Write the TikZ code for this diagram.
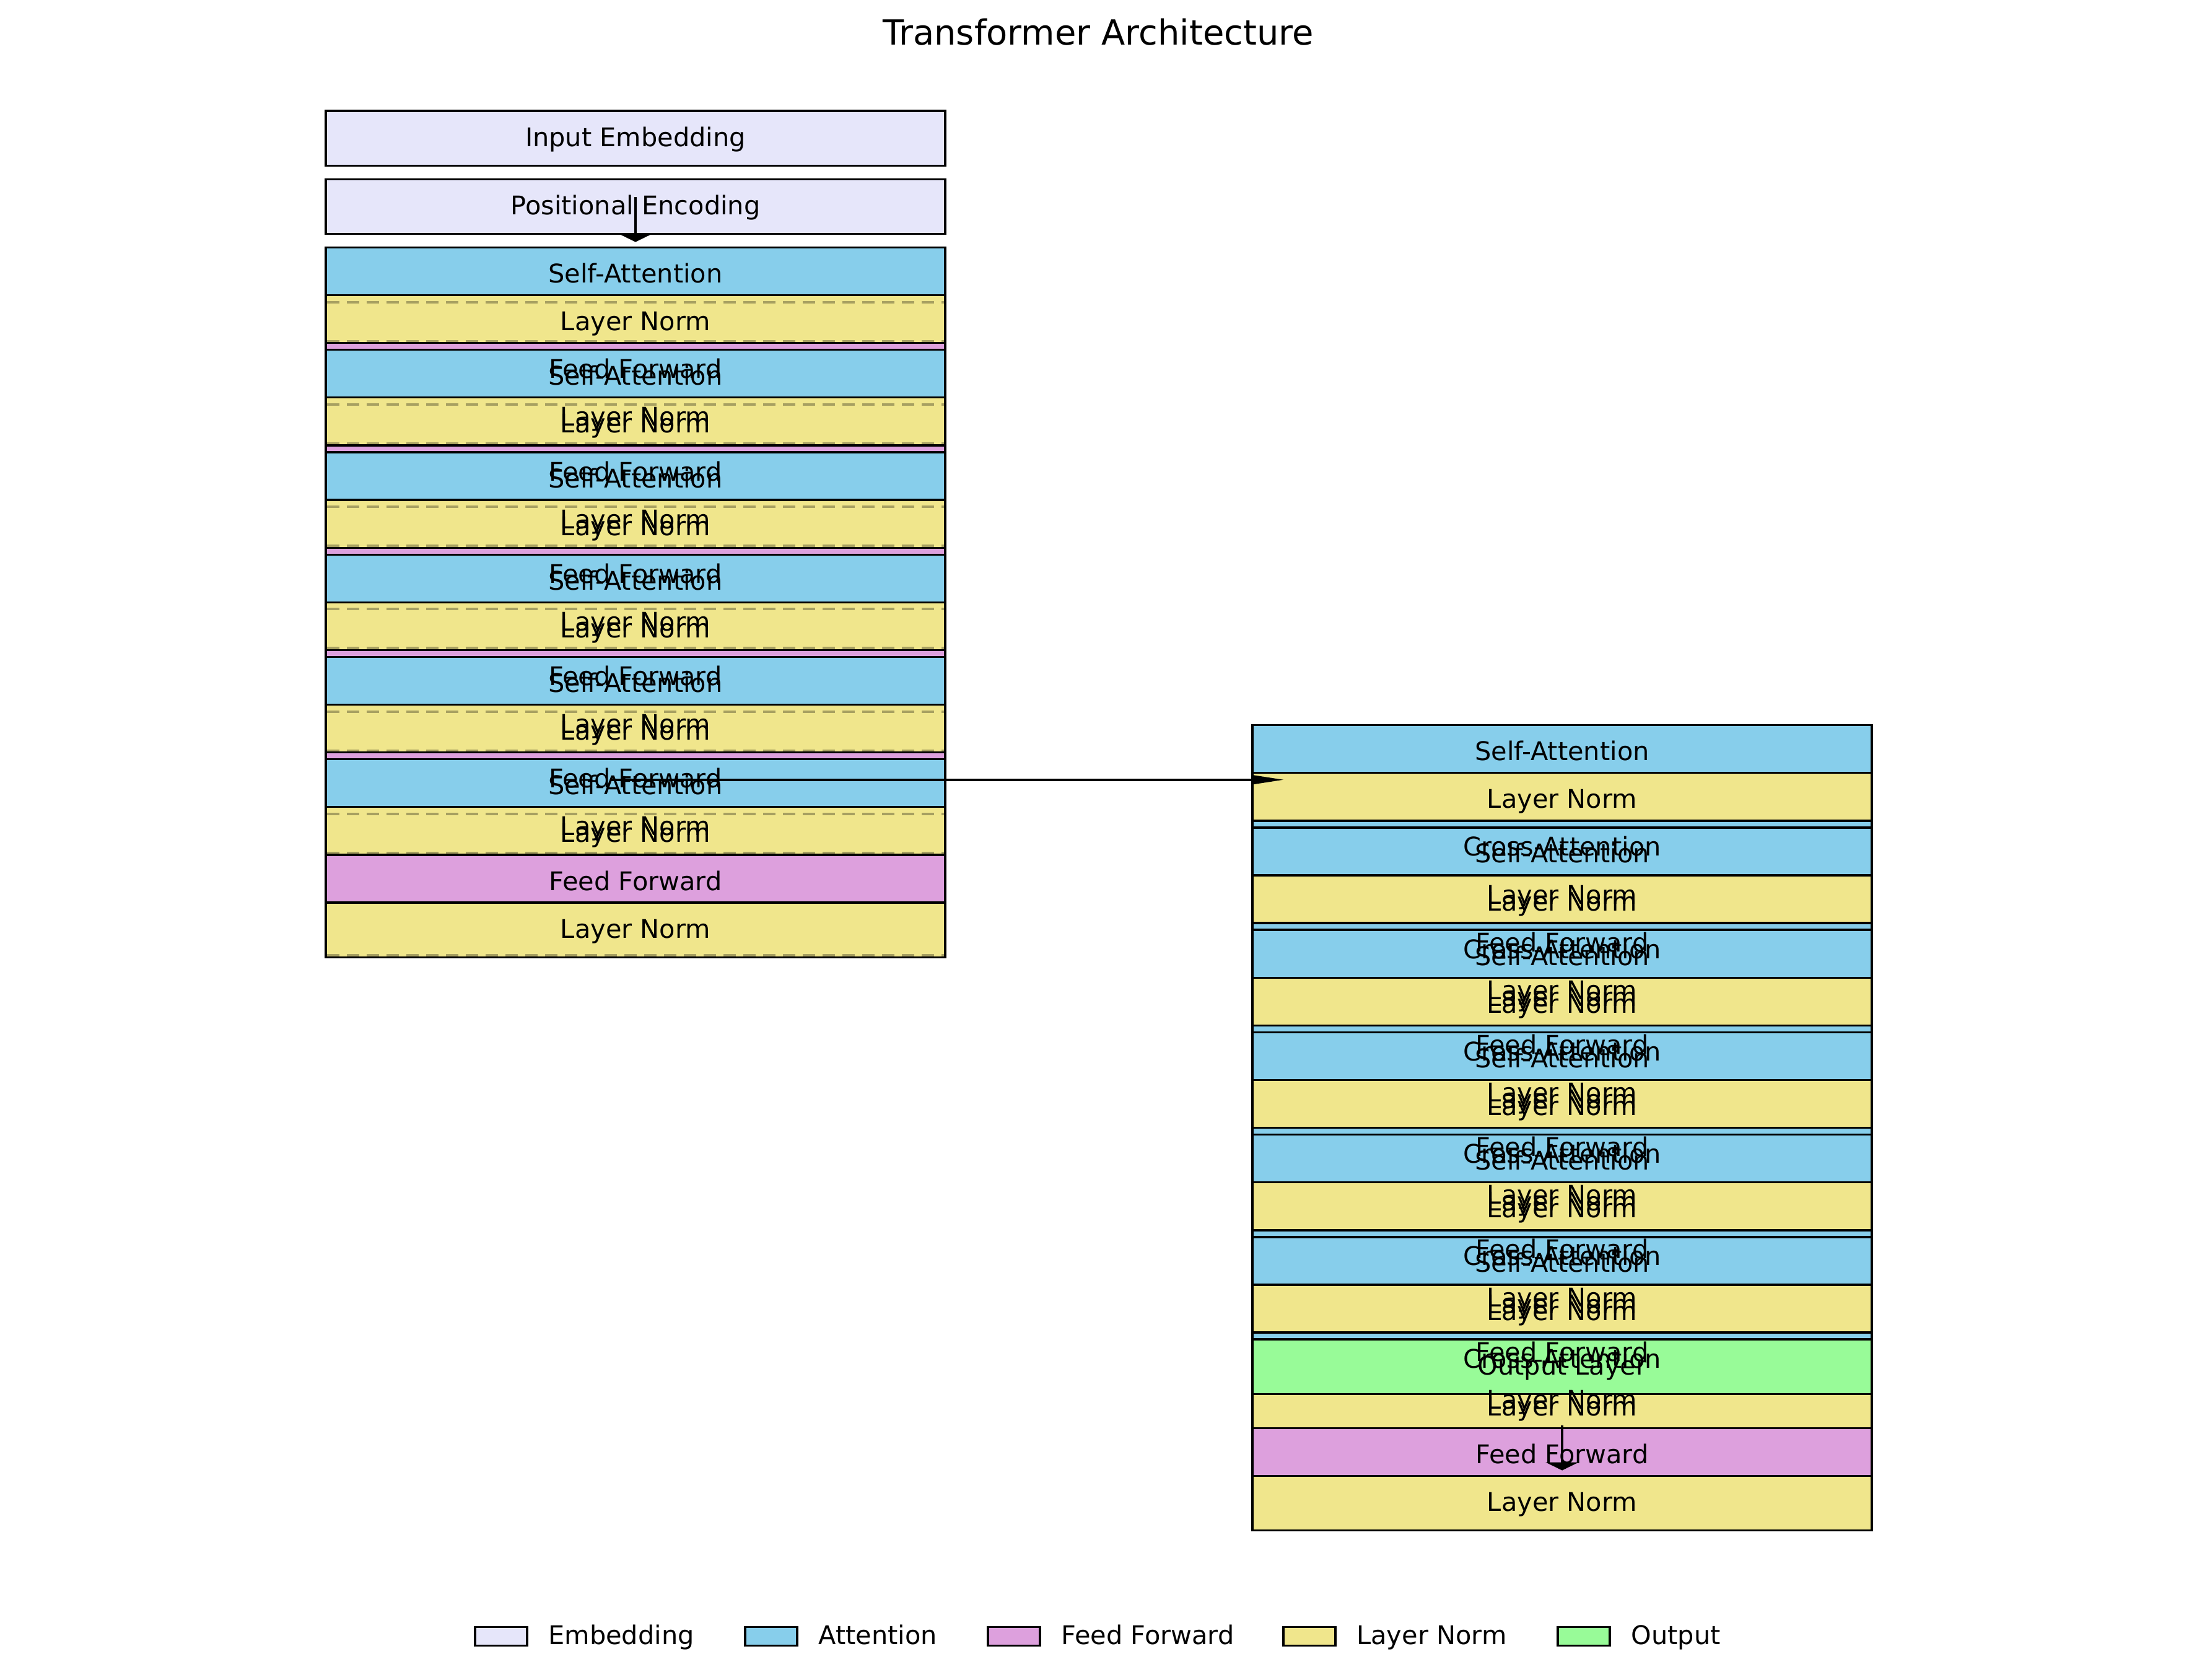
\documentclass[tikz,border=0pt]{standalone}
\usepackage{fontspec}
\setmainfont{DejaVu Sans}
\usetikzlibrary{arrows.meta,positioning}
\definecolor{embcol}{HTML}{E6E6FA}
\definecolor{attcol}{HTML}{87CEEB}
\definecolor{ffcol}{HTML}{DDA0DD}
\definecolor{lncol}{HTML}{F0E68C}
\definecolor{outcol}{HTML}{98FB98}
\tikzset{
	block/.style={draw=black,line width=0.95pt},
	lbl/.style={inner sep=0pt,font=\fontsize{11.8}{14}\selectfont,text height=10.2pt,text depth=2.8pt},
	ttl/.style={inner sep=0pt,font=\fontsize{15.9}{19}\selectfont,text height=14.6pt,text depth=3.8pt},
	resid/.style={draw=black,draw opacity=0.3,line width=1.1pt,dash pattern=on 5.7pt off 3.4pt},
	vflow/.style={line width=1pt,-{Triangle[length=3.7pt,width=15pt]}},
	hflow/.style={line width=1pt,-{Triangle[length=14.2pt,width=4pt]}},
	legpatch/.style={draw=black,line width=0.95pt,minimum width=0.84cm,minimum height=0.30cm,inner sep=0pt},
}
\newcommand{\eo}{1.626}
\begin{document}
\begin{tikzpicture}[x=0.01cm,y=-1.101cm]
	\useasboundingbox[fill=white] (0,0) rectangle (3547,24.614);
%%% Titel
	\node[ttl] (title) at (1773,0.49) {Transformer Architecture};
%%% Encoder: Embedding und Positional Encoding
	\draw[block,fill=embcol] (526,\eo) rectangle ++(1000,0.8);
	\draw[block,fill=embcol] (526,\eo+1) rectangle ++(1000,0.8);
%%% Encoder-Schichten
	\foreach \i in {0,...,5}{
		\pgfmathsetmacro\ty{\eo+2+1.5*\i}
		\draw[block,fill=attcol] (526,\ty) rectangle ++(1000,0.8);
		\draw[block,fill=lncol] (526,\ty+0.7) rectangle ++(1000,0.8);
		\draw[block,fill=ffcol] (526,\ty+1.4) rectangle ++(1000,0.8);
		\draw[block,fill=lncol] (526,\ty+2.1) rectangle ++(1000,0.8);
	}
%%% Residual-Linien (gestrichelt)
	\foreach \i in {0,...,5}{
		\pgfmathsetmacro\ty{\eo+2+1.5*\i}
		\draw[resid] (528,\ty+0.8) -- (1524,\ty+0.8);
		\draw[resid] (528,\ty+1.372) -- (1524,\ty+1.372);
	}
	\draw[resid] (528,\eo+12.375) -- (1524,\eo+12.375);
%%% Decoder-Schichten
	\foreach \j in {0,...,5}{
		\pgfmathsetmacro\ty{\eo+9+1.5*\j}
		\draw[block,fill=attcol] (2022,\ty) rectangle ++(1000,0.8);
		\draw[block,fill=lncol] (2022,\ty+0.7) rectangle ++(1000,0.8);
		\draw[block,fill=attcol] (2022,\ty+1.4) rectangle ++(1000,0.8);
		\draw[block,fill=lncol] (2022,\ty+2.1) rectangle ++(1000,0.8);
		\draw[block,fill=ffcol] (2022,\ty+2.8) rectangle ++(1000,0.8);
		\draw[block,fill=lncol] (2022,\ty+3.5) rectangle ++(1000,0.8);
	}
	\draw[block,fill=outcol] (2022,\eo+18) rectangle ++(1000,0.8);
%%% Beschriftungen Encoder
	\node[lbl] (emb) at (1026,\eo+0.4) {Input Embedding};
	\node[lbl] (pe) at (1026,\eo+1.4) {Positional Encoding};
	\foreach \i in {0,...,5}{
		\pgfmathsetmacro\ty{\eo+2.4+1.5*\i}
		\node[lbl] (enc\i-sa) at (1026,\ty) {Self-Attention};
		\node[lbl] (enc\i-lna) at (1026,\ty+0.7) {Layer Norm};
		\node[lbl] (enc\i-ff) at (1026,\ty+1.4) {Feed Forward};
		\node[lbl] (enc\i-lnb) at (1026,\ty+2.1) {Layer Norm};
	}
%%% Beschriftungen Decoder
	\foreach \j in {0,...,5}{
		\pgfmathsetmacro\ty{\eo+9.4+1.5*\j}
		\node[lbl] (dec\j-sa) at (2522,\ty) {Self-Attention};
		\node[lbl] (dec\j-lna) at (2522,\ty+0.7) {Layer Norm};
		\node[lbl] (dec\j-ca) at (2522,\ty+1.4) {Cross-Attention};
		\node[lbl] (dec\j-lnb) at (2522,\ty+2.1) {Layer Norm};
		\node[lbl] (dec\j-ff) at (2522,\ty+2.8) {Feed Forward};
		\node[lbl] (dec\j-lnc) at (2522,\ty+3.5) {Layer Norm};
	}
	\node[lbl] (out) at (2522,\eo+18.4) {Output Layer};
%%% Pfeile
	\coordinate (pe-out) at (1026,\eo+1.26);
	\coordinate (enc-in) at (1026,\eo+1.92);
	\draw[vflow] (pe-out) -- (enc-in);
	\coordinate (enc-out) at (985,\eo+9.8);
	\coordinate (dec-in) at (2073,\eo+9.8);
	\draw[hflow] (enc-out) -- (dec-in);
	\coordinate (out-a) at (2522,\eo+19.26);
	\coordinate (out-b) at (2522,\eo+19.92);
	\draw[vflow] (out-a) -- (out-b);
%%% Legende
	\foreach \x/\c/\n/\txt in {809/embcol/emb/Embedding,1245/attcol/att/Attention,1637/ffcol/ff/Feed Forward,2114/lncol/ln/Layer Norm,2557/outcol/out/Output}{
		\node[legpatch,fill=\c] (leg-\n) at (\x,23.978) {};
		\node[lbl,right=0.32cm of leg-\n] (legtxt-\n) {\txt};
	}
\end{tikzpicture}
\end{document}
